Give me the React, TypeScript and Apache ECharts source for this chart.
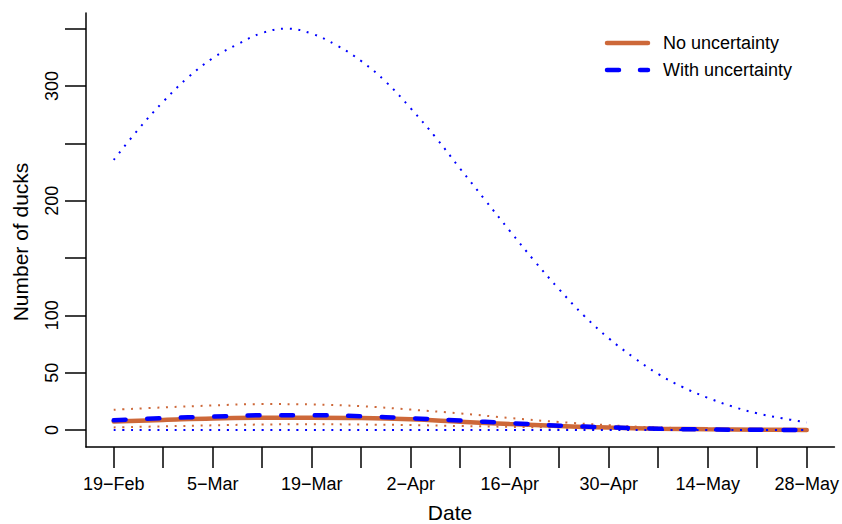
import React, { useEffect, useRef } from "react";
import * as echarts from "echarts";

// Days since 19-Feb (weekly grid) for the small series
const weekDays = [0, 7, 14, 21, 28, 35, 42, 49, 56, 63, 70, 77, 84, 91, 98];
// Finer grid for the large upper bound
const halfWeekDays = [
  0, 3.5, 7, 10.5, 14, 17.5, 21, 24.5, 28, 31.5, 35, 38.5, 42, 45.5, 49, 52.5,
  56, 59.5, 63, 66.5, 70, 73.5, 77, 80.5, 84, 87.5, 91, 94.5, 98,
];

const noUncMean = [7.5, 8.8, 10.1, 10.7, 10.8, 10.5, 9.3, 7.2, 5.2, 3.5, 2.1, 1.2, 0.6, 0.3, 0.1];
const noUncUpper = [17.7, 19.7, 21.4, 22.6, 22.3, 20.8, 17.8, 14.5, 10.5, 7.0, 4.2, 2.2, 1.2, 0.6, 0.3];
const noUncLower = [2.3, 3.2, 4.1, 4.8, 5.0, 4.8, 4.3, 3.5, 2.8, 2.1, 1.4, 0.8, 0.4, 0.2, 0.1];

const withUncMean = [8.5, 10.3, 11.7, 12.9, 12.9, 12.0, 10.3, 8.3, 6.0, 3.8, 2.3, 1.1, 0.5, 0.2, 0.1];
const withUncLower = [0, 0, 0, 0, 0, 0, 0, 0, 0, 0, 0, 0, 0, 0, 0];
const withUncUpper = [
  235.5, 262.3, 286.3, 307.4, 324.2, 336.3, 346.2, 350, 345.6, 335.5, 321.7,
  303.5, 280.5, 255.4, 227.8, 200.7, 173.7, 147.4, 122.6, 99.7, 80, 63.4, 48.8,
  37.3, 28.1, 20.5, 14.5, 10.3, 6.6,
];

const xTickDays = [0, 7, 14, 21, 28, 35, 42, 49, 56, 63, 70, 77, 84, 91, 98];
const xLabelDays = [0, 14, 28, 42, 56, 70, 84, 98];
const xLabelTexts = ["19−Feb", "5−Mar", "19−Mar", "2−Apr", "16−Apr", "30−Apr", "14−May", "28−May"];
const yTicks = [0, 50, 100, 150, 200, 250, 300, 350];
const yLabels = [0, 50, 100, 200, 300];

const legendNames = ["No uncertainty", "With uncertainty"];

const ORANGE = "#CD6839";
const BLUE = "#0000FF";
const FONT = "'Liberation Sans', Arial, Helvetica, sans-serif";

function pairs(xs: number[], ys: number[]) {
  return xs.map((x, i) => [x, ys[i]]);
}

export default function App() {
  const ref = useRef<HTMLDivElement>(null);
  useEffect(() => {
    if (!ref.current) return;
    const chart = echarts.init(ref.current, undefined, { renderer: "svg" });
    const dotted = (color: string) => ({
      color,
      width: 2,
      type: [2, 6.7] as any,
      cap: "butt" as const,
    });
    chart.setOption({
      animation: false,
      backgroundColor: "#fff",
      textStyle: { fontFamily: FONT },
      grid: { left: 86, top: 13, right: 1, bottom: 77, containLabel: false },
      xAxis: {
        type: "value",
        min: -3.92,
        max: 101.92,
        splitLine: { show: false },
        axisLine: { show: true, onZero: false, lineStyle: { color: "#000", width: 1.5 } },
        axisTick: {
          show: true,
          customValues: xTickDays,
          length: 21,
          lineStyle: { color: "#000", width: 1.5 },
        },
        axisLabel: {
          customValues: xLabelDays,
          formatter: (v: number) => {
            const i = xLabelDays.indexOf(Math.round(v));
            return i >= 0 ? xLabelTexts[i] : "";
          },
          fontSize: 18,
          color: "#000",
          margin: 28,
          fontFamily: FONT,
        },
      },
      yAxis: {
        type: "value",
        min: -14.8,
        max: 363.6,
        splitLine: { show: false },
        axisLine: { show: true, onZero: false, lineStyle: { color: "#000", width: 1.5 } },
        axisTick: {
          show: true,
          customValues: yTicks,
          length: 21,
          lineStyle: { color: "#000", width: 1.5 },
        },
        axisLabel: {
          customValues: yLabels,
          rotate: 90,
          fontSize: 18,
          color: "#000",
          margin: 25,
          fontFamily: FONT,
        },
      },
      series: [
        {
          name: legendNames[0],
          type: "line",
          data: pairs(weekDays, noUncMean),
          smooth: 0.4,
          showSymbol: false,
          lineStyle: { color: ORANGE, width: 4.5, cap: "round" },
          z: 2,
        },
        {
          name: "noUncUpper",
          type: "line",
          data: pairs(weekDays, noUncUpper),
          smooth: 0.4,
          showSymbol: false,
          lineStyle: dotted(ORANGE),
          z: 2,
        },
        {
          name: "noUncLower",
          type: "line",
          data: pairs(weekDays, noUncLower),
          smooth: 0.4,
          showSymbol: false,
          lineStyle: dotted(ORANGE),
          z: 2,
        },
        {
          name: legendNames[1],
          type: "line",
          data: pairs(weekDays, withUncMean),
          smooth: 0.4,
          showSymbol: false,
          lineStyle: { color: BLUE, width: 4.5, type: [12, 21.5] as any, cap: "round" },
          z: 3,
        },
        {
          name: "withUncUpper",
          type: "line",
          data: pairs(halfWeekDays, withUncUpper),
          smooth: 0.4,
          showSymbol: false,
          lineStyle: dotted(BLUE),
          z: 3,
        },
        {
          name: "withUncLower",
          type: "line",
          data: pairs(weekDays, withUncLower),
          smooth: 0.4,
          showSymbol: false,
          lineStyle: dotted(BLUE),
          z: 3,
        },
      ],
      graphic: [
        {
          type: "line",
          shape: { x1: 607, y1: 43, x2: 648, y2: 43 },
          style: { stroke: ORANGE, lineWidth: 4.5, lineCap: "round" },
        },
        {
          type: "text",
          x: 663,
          y: 43,
          style: {
            text: legendNames[0],
            fontSize: 18,
            fontFamily: FONT,
            fill: "#000",
            textAlign: "left",
            textVerticalAlign: "middle",
          },
        },
        {
          type: "line",
          shape: { x1: 607, y1: 70, x2: 648, y2: 70 },
          style: { stroke: BLUE, lineWidth: 4.5, lineCap: "round", lineDash: [12, 21] },
        },
        {
          type: "text",
          x: 663,
          y: 70,
          style: {
            text: legendNames[1],
            fontSize: 18,
            fontFamily: FONT,
            fill: "#000",
            textAlign: "left",
            textVerticalAlign: "middle",
          },
        },
        {
          type: "text",
          x: 450,
          y: 512,
          style: {
            text: "Date",
            fontSize: 21,
            fontFamily: FONT,
            fill: "#000",
            textAlign: "center",
            textVerticalAlign: "middle",
          },
        },
        {
          type: "text",
          x: 20,
          y: 242,
          rotation: Math.PI / 2,
          style: {
            text: "Number of ducks",
            fontSize: 21,
            fontFamily: FONT,
            fill: "#000",
            textAlign: "center",
            textVerticalAlign: "middle",
          },
        },
      ],
    });
    return () => chart.dispose();
  }, []);
  return (
    <div
      ref={ref}
      style={{ position: "fixed", left: 0, top: 0, width: 842, height: 524, background: "#fff" }}
    />
  );
}
